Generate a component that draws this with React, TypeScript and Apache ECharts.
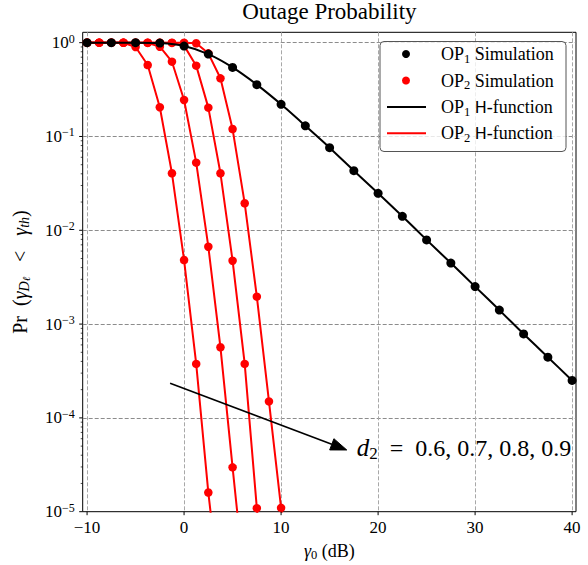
import React, { useEffect, useRef } from 'react';
import * as echarts from 'echarts';

const SERIF = '"Liberation Serif", "Times New Roman", serif';
const SANS = '"DejaVu Sans", "Liberation Sans", sans-serif';

// ---- axis ticks ----
const xTickValues = [-10, 0, 10, 20, 30, 40];
const yDecadeExponents = [-5, -4, -3, -2, -1, 0];
const minorMultipliers = [2, 3, 4, 5, 6, 7, 8, 9];

// ---- OP1 (simulation + H-function) ----
const op1X = [-10, -7.5, -5, -2.5, 0, 2.5, 5, 7.5, 10, 12.5, 15, 17.5, 20, 22.5, 25, 27.5, 30, 32.5, 35, 37.5, 40];
const op1Values = [1, 1, 1, 0.99, 0.92, 0.755, 0.545, 0.357, 0.22, 0.13, 0.076, 0.0432, 0.0248, 0.0141, 0.0079, 0.00447, 0.00251, 0.00141, 0.000785, 0.000444, 0.000251];

// ---- OP2 for d2 = 0.6, 0.7, 0.8, 0.9 ----
const op2X = [-10, -8.75, -7.5, -6.25, -5, -3.75, -2.5, -1.25, 0, 1.25, 2.5, 3.75, 5, 6.25, 7.5, 8.75, 10, 11.25];
const op2D06 = [1, 1, 1, 0.998, 0.9, 0.578, 0.205, 0.0405, 0.00482, 0.000376, 0.000016, 0.0000012, null, null, null, null, null, null];
const op2D07 = [1, 1, 1, 1, 1, 0.995, 0.906, 0.627, 0.245, 0.0526, 0.00668, 0.000566, 0.0000297, 0.0000017, null, null, null, null];
const op2D08 = [1, 1, 1, 1, 1, 1, 1, 0.995, 0.93, 0.569, 0.203, 0.0405, 0.00474, 0.000376, 0.0000109, 0.0000006, null, null];
const op2D09 = [1, 1, 1, 1, 1, 1, 1, 1, 0.999, 0.985, 0.77, 0.417, 0.12, 0.0194, 0.00196, 0.00015, 0.000011, 0.0000008];
const op2Curves = [op2D06, op2D07, op2D08, op2D09];

const X_MIN = -10.45;
const X_MAX = 40.4;
const P_MIN = 1e-5;
const P_MAX = 1.29;

// annotation anchors (data coordinates)
const arrowFrom = [-1.44, 2.34e-4];
const arrowTo = [16.77, 4.55e-5];
const labelAt = [17.8, 4.8e-5];

const lg = (p: number) => Math.log10(p);

const legendRich = {
  n: { fontFamily: SERIF, fontSize: 18, lineHeight: 22, color: '#000' },
  sub: { fontFamily: SERIF, fontSize: 12.5, lineHeight: 13, verticalAlign: 'bottom', color: '#000' },
  sf: { fontFamily: SANS, fontSize: 16, lineHeight: 22, color: '#000' },
};

export default function App() {
  const ref = useRef<HTMLDivElement>(null);
  useEffect(() => {
    const chart = echarts.init(ref.current!, null, { renderer: 'svg' });

    const series: any[] = [];
    op2Curves.forEach((vals) => {
      series.push({
        name: 'OP2 H-function',
        type: 'line',
        data: op2X.map((x, j) => [x, vals[j] == null ? null : lg(vals[j] as number)]),
        showSymbol: false,
        lineStyle: { color: '#ff0000', width: 2 },
        itemStyle: { color: '#ff0000' },
        clip: true,
        z: 2,
      });
    });
    op2Curves.forEach((vals) => {
      series.push({
        name: 'OP2 Simulation',
        type: 'scatter',
        data: op2X
          .map((x, j) => [x, vals[j]])
          .filter((d) => d[1] != null && (d[1] as number) >= P_MIN)
          .map((d) => [d[0], lg(d[1] as number)]),
        symbolSize: 8.5,
        itemStyle: { color: '#ff0000', opacity: 1 },
        z: 3,
      });
    });
    series.push({
      name: 'OP1 H-function',
      type: 'line',
      data: op1X.map((x, j) => [x, lg(op1Values[j])]),
      showSymbol: false,
      smooth: 0.25,
      lineStyle: { color: '#000', width: 2 },
      itemStyle: { color: '#000' },
      z: 4,
    });
    series.push({
      name: 'OP1 Simulation',
      type: 'scatter',
      data: op1X.map((x, j) => [x, lg(op1Values[j])]),
      symbolSize: 9,
      itemStyle: { color: '#000', opacity: 1 },
      z: 5,
    });
    // tick marks (major on x, major + minor on log y)
    const tickData: number[][] = [];
    xTickValues.forEach((v) => tickData.push([0, v]));
    yDecadeExponents.forEach((e) => tickData.push([1, e]));
    yDecadeExponents.forEach((e) => {
      if (e >= 0) return;
      minorMultipliers.forEach((m) => tickData.push([2, e + Math.log10(m)]));
    });
    series.push({
      type: 'custom',
      silent: true,
      z: 6,
      data: tickData,
      renderItem: (params: any, api: any) => {
        const kind = api.value(0);
        const v = api.value(1);
        if (kind === 0) {
          const p = api.coord([v, lg(P_MIN)]);
          return { type: 'line', shape: { x1: p[0], y1: p[1], x2: p[0], y2: p[1] + 3.5 }, style: { stroke: '#000', lineWidth: 1 } };
        }
        const len = kind === 1 ? 3.5 : 2;
        const p = api.coord([X_MIN, v]);
        return { type: 'line', shape: { x1: p[0] - len, y1: p[1], x2: p[0], y2: p[1] }, style: { stroke: '#000', lineWidth: kind === 1 ? 1 : 0.7 } };
      },
    });

    const option: any = {
      animation: false,
      backgroundColor: '#fff',
      title: {
        text: 'Outage Probability',
        left: 329.4,
        top: 0,
        padding: 0,
        textAlign: 'center',
        textStyle: { fontFamily: SERIF, fontSize: 23, fontWeight: 'normal', color: '#000' },
      },
      grid: {
        left: 82.7,
        top: 32.3,
        width: 493.3,
        height: 479.4,
        show: true,
        borderColor: '#000',
        borderWidth: 1,
        backgroundColor: 'transparent',
        containLabel: false,
        outerBoundsMode: 'none',
      },
      xAxis: {
        type: 'value',
        min: X_MIN,
        max: X_MAX,
        splitNumber: 5,
        axisLine: { show: false },
        axisTick: { show: false },
        axisLabel: {
          margin: 7,
          fontFamily: SERIF,
          fontSize: 17,
          color: '#000',
          formatter: (v: number) =>
            xTickValues.some((t) => Math.abs(t - v) < 1e-6) ? String(Math.round(v)).replace('-', '\u2212') : '',
        },
        splitLine: {
          show: true,
          showMinLine: false,
          showMaxLine: false,
          lineStyle: { color: '#a8a8a8', type: [4, 2], width: 1 },
        },
        name: '{i|\u03b3}{sub|0}{n| (dB)}',
        nameLocation: 'middle',
        nameGap: 28,
        nameTextStyle: {
          fontFamily: SERIF,
          fontSize: 18,
          color: '#000',
          rich: {
            i: { fontFamily: SERIF, fontSize: 18, fontStyle: 'italic', lineHeight: 22 },
            sub: { fontFamily: SERIF, fontSize: 12.5, lineHeight: 13, verticalAlign: 'bottom' },
            n: { fontFamily: SERIF, fontSize: 18, lineHeight: 22 },
          },
        },
      },
      yAxis: {
        type: 'value',
        min: lg(P_MIN),
        max: lg(P_MAX),
        interval: 1,
        axisLine: { show: false },
        axisTick: { show: false },
        axisLabel: {
          margin: 8,
          fontFamily: SERIF,
          fontSize: 17,
          color: '#000',
          formatter: (v: number) => {
            const e = Math.round(v);
            if (Math.abs(v - e) > 1e-6) return '';
            return `{b|10}{sup|${e < 0 ? '\u2212' : ''}${Math.abs(e)}}`;
          },
          rich: {
            b: { fontFamily: SERIF, fontSize: 17, lineHeight: 20, color: '#000' },
            sup: { fontFamily: SERIF, fontSize: 12, lineHeight: 12, verticalAlign: 'top', color: '#000' },
          },
        },
        splitLine: {
          show: true,
          showMinLine: false,
          showMaxLine: false,
          lineStyle: { color: '#8c8c8c', type: [4, 2], width: 1 },
        },
        name: '{n|Pr  (}{i|\u03b3}{sub|D}{ss|\u2113}{n|   <   }{i|\u03b3}{sub|th}{n|)}',
        nameLocation: 'middle',
        nameRotate: 90,
        nameGap: 51,
        nameTextStyle: {
          fontFamily: SERIF,
          fontSize: 20,
          color: '#000',
          rich: {
            n: { fontFamily: SERIF, fontSize: 20, lineHeight: 24 },
            i: { fontFamily: SERIF, fontSize: 20, fontStyle: 'italic', lineHeight: 24 },
            sub: { fontFamily: SERIF, fontSize: 14, fontStyle: 'italic', lineHeight: 14, verticalAlign: 'bottom' },
            ss: { fontFamily: SERIF, fontSize: 10.5, fontStyle: 'italic', lineHeight: 8, verticalAlign: 'bottom' },
          },
        },
      },
      series,
    };
    chart.setOption(option);

    // annotation arrow + text, positioned through the chart's scales
    const a = chart.convertToPixel({ gridIndex: 0 }, [arrowFrom[0], lg(arrowFrom[1])]) as number[];
    const b = chart.convertToPixel({ gridIndex: 0 }, [arrowTo[0], lg(arrowTo[1])]) as number[];
    const t = chart.convertToPixel({ gridIndex: 0 }, [labelAt[0], lg(labelAt[1])]) as number[];
    const dx = b[0] - a[0];
    const dy = b[1] - a[1];
    const L = Math.hypot(dx, dy);
    const ux = dx / L;
    const uy = dy / L;
    const headLen = 16;
    const headHalf = 6;
    const bx = b[0] - ux * headLen;
    const by = b[1] - uy * headLen;

    const legX = 380;
    const legY = 41.5;
    const legW = 186;
    const legH = 110;
    const rowsY = [54, 80.5, 107, 133.3];
    const rows = [
      { kind: 'dot', color: '#000', text: '{n|OP}{sub|1}{n| Simulation}' },
      { kind: 'dot', color: '#ff0000', text: '{n|OP}{sub|2}{n| Simulation}' },
      { kind: 'line', color: '#000', text: '{n|OP}{sub|1}{n| }{sf|H}{n|-function}' },
      { kind: 'line', color: '#ff0000', text: '{n|OP}{sub|2}{n| }{sf|H}{n|-function}' },
    ];
    const graphic: any[] = [
      {
        type: 'line',
        z: 50,
        shape: { x1: a[0], y1: a[1], x2: bx, y2: by },
        style: { stroke: '#000', lineWidth: 1.6 },
      },
      {
        type: 'polygon',
        z: 50,
        shape: {
          points: [
            [b[0], b[1]],
            [bx - uy * headHalf, by + ux * headHalf],
            [bx + uy * headHalf, by - ux * headHalf],
          ],
        },
        style: { fill: '#000', stroke: '#000', lineWidth: 1 },
      },
      {
        type: 'text',
        z: 50,
        x: t[0],
        y: t[1],
        style: {
          text: '{i|d}{sub|2}{n|  =  0.6, 0.7, 0.8, 0.9}',
          verticalAlign: 'middle',
          align: 'left',
          fill: '#000',
          font: `24px ${SERIF}`,
          rich: {
            i: { fontFamily: SERIF, fontSize: 25, fontStyle: 'italic', lineHeight: 28 },
            sub: { fontFamily: SERIF, fontSize: 17, lineHeight: 16, verticalAlign: 'bottom' },
            n: { fontFamily: SERIF, fontSize: 24, lineHeight: 28 },
          },
        },
      },
      {
        type: 'rect',
        z: 60,
        shape: { x: legX, y: legY, width: legW, height: legH, r: 4 },
        style: { fill: 'rgba(255,255,255,0.8)', stroke: '#555', lineWidth: 1 },
      },
    ];
    rows.forEach((r, i) => {
      const y = rowsY[i];
      if (r.kind === 'dot') {
        graphic.push({ type: 'circle', z: 61, shape: { cx: 406, cy: y, r: 4 }, style: { fill: r.color } });
      } else {
        graphic.push({ type: 'line', z: 61, shape: { x1: 387, y1: y, x2: 426, y2: y }, style: { stroke: r.color, lineWidth: 2 } });
      }
      graphic.push({
        type: 'text',
        z: 61,
        x: 441,
        y,
        style: { text: r.text, rich: legendRich, verticalAlign: 'middle', align: 'left', fill: '#000', font: `18px ${SERIF}` },
      });
    });
    chart.setOption({ graphic });

    return () => chart.dispose();
  }, []);
  return <div ref={ref} style={{ position: 'fixed', left: 0, top: 0, width: 588, height: 565 }} />;
}
